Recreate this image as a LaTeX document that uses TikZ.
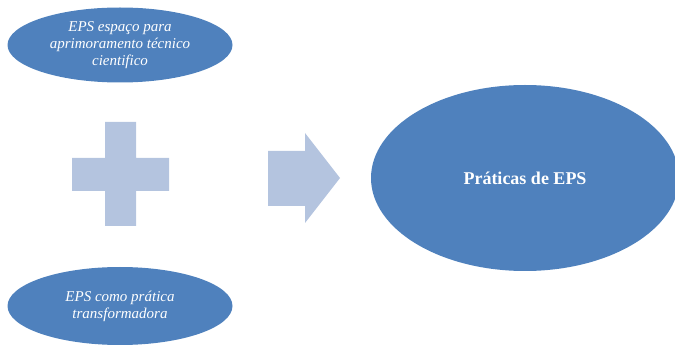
\documentclass[tikz,border=0pt]{standalone}
\usepackage{fontspec}
\setmainfont{Liberation Serif}
\usetikzlibrary{shapes.geometric}
\definecolor{ovalblue}{RGB}{79,129,189}
\definecolor{signblue}{RGB}{180,196,223}
\tikzset{
  oval/.style={ellipse, fill=ovalblue, inner sep=0pt, text=white, align=center},
  sign/.style={fill=signblue, draw=none}
}
\begin{document}
\begin{tikzpicture}[x=1pt, y=-1pt]
  \useasboundingbox (0,0) rectangle (675,347);
  \clip (0,0) rectangle (675,347);

  % left ovals
  \node[oval, minimum width=225pt, minimum height=75pt,
        font=\fontsize{15}{17}\selectfont\itshape] (tech) at (120,45)
        {EPS espaço para\\aprimoramento técnico\\cientifico};
  \node[oval, minimum width=225pt, minimum height=78pt,
        font=\fontsize{15}{17}\selectfont\itshape] (transf) at (120,306)
        {EPS como prática\\transformadora};

  % plus sign
  \fill[sign] (105,122) -- (136,122) -- (136,158) -- (169,158) -- (169,191)
     -- (136,191) -- (136,226) -- (105,226) -- (105,191) -- (72,191)
     -- (72,158) -- (105,158) -- cycle;

  % right arrow
  \fill[sign] (268,151) -- (305,151) -- (305,133) -- (340,178) -- (305,223)
     -- (305,206) -- (268,206) -- cycle;

  % result oval
  \node[oval, minimum width=308pt, minimum height=186pt,
        font=\fontsize{18}{20}\selectfont\bfseries] (prat) at (525,178)
        {Práticas de EPS};
\end{tikzpicture}
\end{document}
